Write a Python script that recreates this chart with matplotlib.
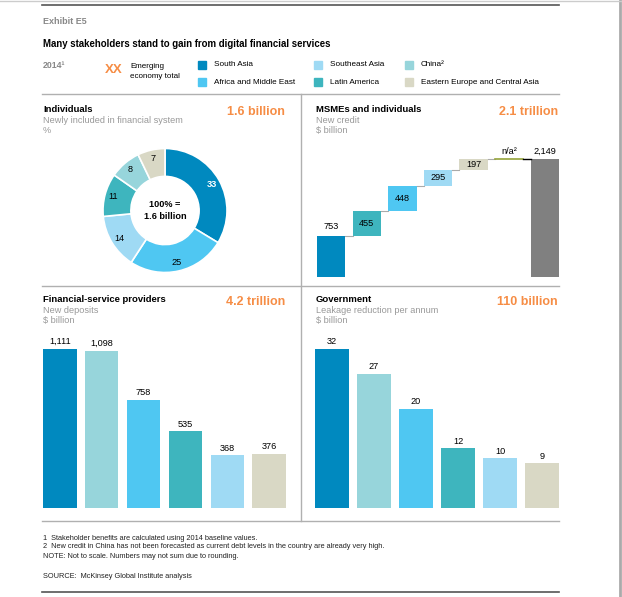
import matplotlib
matplotlib.use('Agg')
import matplotlib.pyplot as plt
from matplotlib.lines import Line2D
from matplotlib.patches import Rectangle
import numpy as np

plt.rcParams['font.family'] = ['Liberation Sans', 'DejaVu Sans']

# figure size in pixels
W, H = 622, 597

# ---- data ----
region_colors = {
    'South Asia': '#0089BF',
    'Africa and Middle East': '#4FC7F2',
    'Southeast Asia': '#9FDAF4',
    'Latin America': '#3EB5BE',
    'China': '#97D5DB',
    'Eastern Europe and Central Asia': '#D9D8C5',
}
legend_labels = ['South Asia', 'Africa and Middle East', 'Southeast Asia',
                 'Latin America', 'China', 'Eastern Europe and Central Asia']

# individuals newly included, %
indiv_regions = ['South Asia', 'Africa and Middle East', 'Southeast Asia',
                 'Latin America', 'China', 'Eastern Europe and Central Asia']
indiv_share = [33, 25, 14, 11, 8, 7]

# new credit, $ billion (China n/a)
credit_regions = ['South Asia', 'Latin America', 'Africa and Middle East',
                  'Southeast Asia', 'Eastern Europe and Central Asia', 'China']
credit_values = [753, 455, 448, 295, 197, None]
credit_total = 2149

# new deposits / leakage reduction, $ billion
bar_regions = ['South Asia', 'China', 'Africa and Middle East',
               'Latin America', 'Southeast Asia', 'Eastern Europe and Central Asia']
deposits = [1111, 1098, 758, 535, 368, 376]
leakage = [32, 27, 20, 12, 10, 9]

ORANGE = '#F68D45'
GREY_TXT = '#999999'


def box(x0, y0, x1, y1):
    # pixel box (top-left origin) -> figure fraction rect
    return [x0 / W, 1 - y1 / H, (x1 - x0) / W, (y1 - y0) / H]


def txt(x, y, s, **kw):
    kw.setdefault('va', 'center')
    fig.text(x / W, 1 - y / H, s, **kw)


def hline(x0, x1, y, **kw):
    fig.add_artist(Line2D([x0 / W, x1 / W], [1 - y / H, 1 - y / H],
                          transform=fig.transFigure, **kw))


def vline(x, y0, y1, **kw):
    fig.add_artist(Line2D([x / W, x / W], [1 - y0 / H, 1 - y1 / H],
                          transform=fig.transFigure, **kw))


fig = plt.figure(figsize=(W / 100, H / 100), dpi=100)
fig.patch.set_facecolor('white')

# frame lines
hline(42, 559, 4.5, color='#555555', lw=1.2)
hline(42, 559, 94, color='#B0B0B0', lw=1)
hline(42, 559, 286, color='#B0B0B0', lw=1)
hline(42, 559, 520.5, color='#B0B0B0', lw=1)
hline(42, 559, 591.5, color='#555555', lw=1.2)
vline(300.5, 94, 520.5, color='#B0B0B0', lw=1)
vline(619.5, 0, 597, color='#AAAAAA', lw=2)
hline(0, 622, 0.5, color='#CCCCCC', lw=1)

# header
txt(43, 22, 'Exhibit E5', fontsize=6.5, fontweight='bold', color='#888888')
txt(43, 44, 'Many stakeholders stand to gain from digital financial services',
    fontsize=6.9, fontweight='bold', color='black')
txt(43, 66, '2014¹', fontsize=6.3, fontweight='bold', color='#888888')
txt(105, 70, 'XX', fontsize=9.5, fontweight='bold', color=ORANGE)
txt(130, 66, 'Emerging', fontsize=5.8, color='black')
txt(130, 76, 'economy total', fontsize=5.8, color='black')

leg_x = [198, 198, 314, 314, 405, 405]
leg_y = [65, 82, 65, 82, 65, 82]
for name, lx, ly in zip(legend_labels, leg_x, leg_y):
    fig.add_artist(Rectangle((lx / W, 1 - (ly + 3.5) / H), 7.5 / W, 7.5 / H,
                             transform=fig.transFigure, color=region_colors[name]))
    label = 'China²' if name == 'China' else name
    txt(lx + 16, ly, label, fontsize=5.9, color='black')

# panel headers
panels = [
    (43, 285, 110, 'Individuals', 'Newly included in financial system\n%', '1.6 billion'),
    (316, 558, 110, 'MSMEs and individuals', 'New credit\n$ billion', '2.1 trillion'),
    (43, 285, 300, 'Financial-service providers', 'New deposits\n$ billion', '4.2 trillion'),
    (316, 558, 300, 'Government', 'Leakage reduction per annum\n$ billion', '110 billion'),
]
for xl, xr, yt, title, sub, big in panels:
    txt(xl, yt, title, fontsize=6.8, fontweight='bold', color='black')
    txt(xl, yt + 6, sub, fontsize=6.6, color=GREY_TXT, va='top', linespacing=1.1)
    txt(xr, yt + 2, big, fontsize=9.0, fontweight='bold', color=ORANGE, ha='right')

# ---- donut ----
ax1 = fig.add_axes(box(103, 148.5, 227, 272.5))
wedges, _ = ax1.pie(indiv_share, colors=[region_colors[r] for r in indiv_regions],
                    startangle=90, counterclock=False, radius=1,
                    wedgeprops=dict(width=0.45, edgecolor='white', linewidth=1.2))
ax1.set_xlim(-1, 1)
ax1.set_ylim(-1, 1)
ax1.axis('off')
for w, v, r in zip(wedges, indiv_share, indiv_regions):
    ang = np.deg2rad((w.theta1 + w.theta2) / 2)
    ax1.text(0.86 * np.cos(ang), 0.86 * np.sin(ang), str(v), ha='center', va='center',
             fontsize=6.6, color='white' if r == 'South Asia' else 'black',
             fontweight='bold' if r == 'South Asia' else 'normal')
ax1.text(0, 0, '100% =\n1.6 billion', ha='center', va='center', fontsize=6.6,
         fontweight='bold', linespacing=1.4)

# ---- waterfall ----
ax2 = fig.add_axes(box(317, 145, 559, 277))
ax2.set_xlim(-0.4, len(credit_values) + 0.4)
ax2.set_ylim(0, credit_total * 132 / 118)
ax2.axis('off')
run = 0
for i, (r, v) in enumerate(zip(credit_regions, credit_values)):
    if v is None:
        ax2.plot([i - 0.4, i + 0.4], [run, run], color='#95A33A', lw=1.2)
        ax2.annotate('n/a²', (i, run), xytext=(0, 2), textcoords='offset points',
                     ha='center', va='bottom', fontsize=6.6)
        ax2.plot([i + 0.4, i + 0.6], [run, run], color='black', lw=1)
        continue
    ax2.bar(i, v, bottom=run, width=0.8, color=region_colors[r])
    if i == 0:
        ax2.annotate(f'{v:,}', (i, v), xytext=(0, 3), textcoords='offset points',
                     ha='center', va='bottom', fontsize=6.6)
    else:
        ax2.text(i, run + v / 2, f'{v:,}', ha='center', va='center', fontsize=6.6)
    run += v
    ax2.plot([i + 0.4, i + 0.6], [run, run], color='#AAAAAA', lw=0.8)
n = len(credit_values)
ax2.bar(n, credit_total, width=0.8, color='#808080')
ax2.annotate(f'{credit_total:,}', (n, credit_total), xytext=(0, 2),
             textcoords='offset points', ha='center', va='bottom', fontsize=6.6)


# ---- simple bar panels ----
def bar_panel(rect, values):
    ax = fig.add_axes(rect)
    x = np.arange(len(values))
    ax.bar(x, values, width=0.8, color=[region_colors[r] for r in bar_regions])
    ax.set_xlim(-0.4, len(values) - 0.6)
    ax.set_ylim(0, max(values) * 178 / 159)
    ax.axis('off')
    for xi, v in zip(x, values):
        ax.annotate(f'{v:,}', (xi, v), xytext=(0, 2), textcoords='offset points',
                    ha='center', va='bottom', fontsize=6.6)
    return ax


bar_panel(box(43, 330, 286, 508), deposits)
bar_panel(box(315, 330, 559, 508), leakage)

# footnotes
foot = [(539, '1  Stakeholder benefits are calculated using 2014 baseline values.'),
        (547, '2  New credit in China has not been forecasted as current debt levels in the country are already very high.'),
        (557, 'NOTE: Not to scale. Numbers may not sum due to rounding.'),
        (576, 'SOURCE:  McKinsey Global Institute analysis')]
for y, s in foot:
    txt(43, y, s, fontsize=5.3, color='#222222')

fig.savefig('out.png', dpi=100)
